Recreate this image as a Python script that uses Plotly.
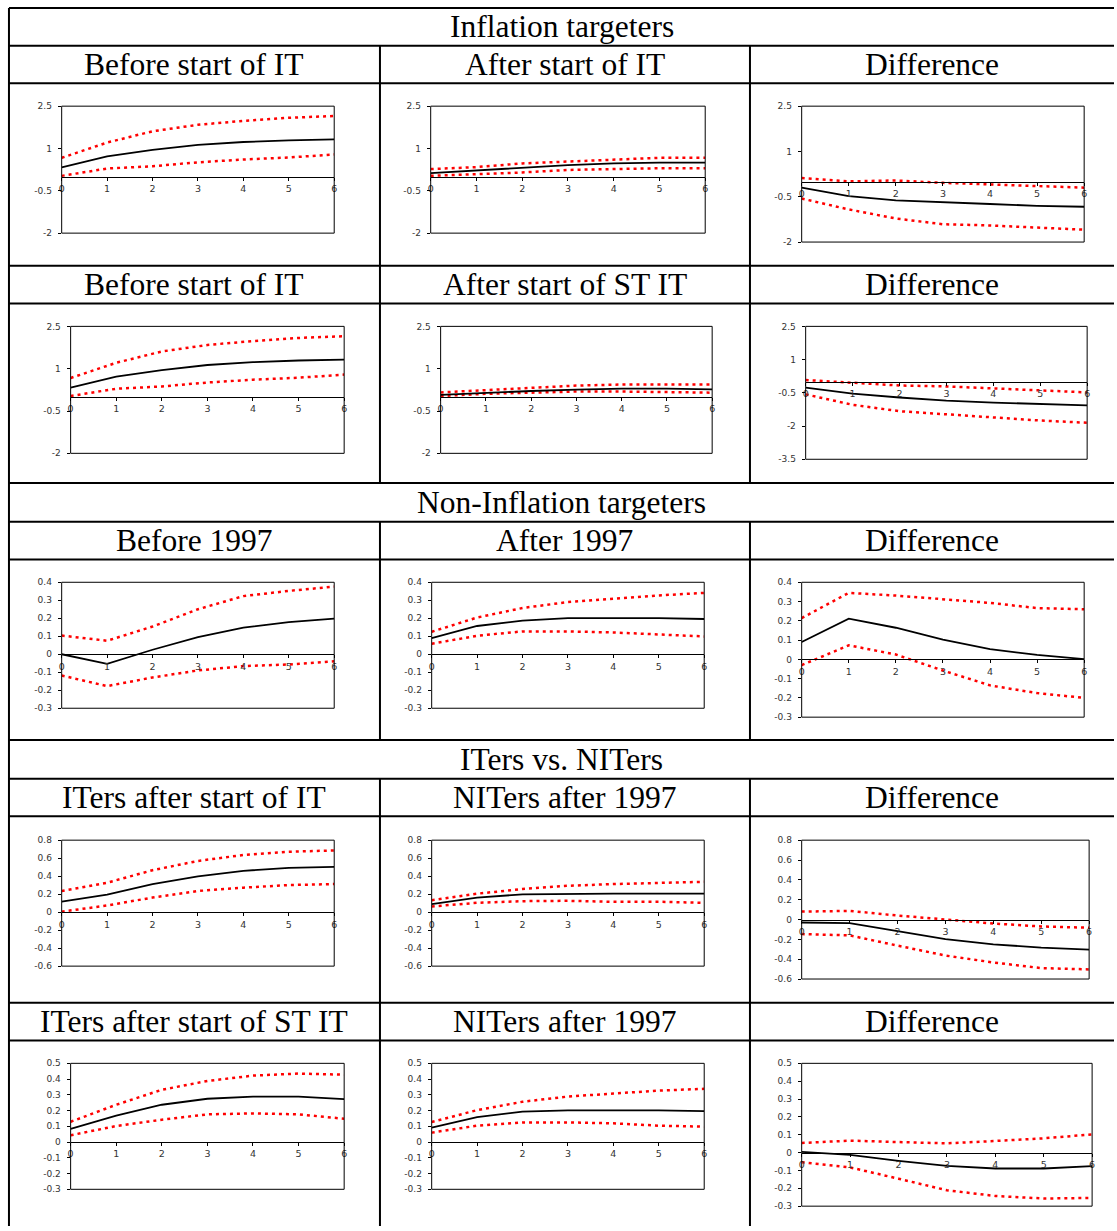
import plotly.graph_objects as go

# ---------------- data ----------------
horizon = [0, 1, 2, 3, 4, 5, 6]
horizon_labels = ["0", "1", "2", "3", "4", "5", "6"]

# Inflation targeters: before start of IT (same in both IT rows)
it_before_mid = [0.33, 0.72, 0.95, 1.13, 1.23, 1.29, 1.32]
it_before_up = [0.67, 1.21, 1.61, 1.84, 1.98, 2.09, 2.15]
it_before_lo = [0.03, 0.29, 0.37, 0.51, 0.61, 0.68, 0.79]

# after start of IT
it_after_mid = [0.13, 0.22, 0.32, 0.41, 0.47, 0.50, 0.50]
it_after_up = [0.27, 0.34, 0.47, 0.54, 0.62, 0.67, 0.67]
it_after_lo = [0.03, 0.08, 0.15, 0.24, 0.27, 0.30, 0.30]

# difference (IT)
it_diff_mid = [-0.20, -0.48, -0.62, -0.69, -0.74, -0.80, -0.83]
it_diff_up = [0.12, 0.01, 0.04, -0.04, -0.09, -0.14, -0.20]
it_diff_lo = [-0.56, -0.92, -1.22, -1.41, -1.45, -1.52, -1.59]

# after start of ST IT
st_after_mid = [0.07, 0.15, 0.21, 0.26, 0.29, 0.29, 0.27]
st_after_up = [0.16, 0.25, 0.32, 0.40, 0.44, 0.44, 0.44]
st_after_lo = [0.03, 0.11, 0.15, 0.19, 0.19, 0.18, 0.15]

# difference (ST IT)
st_diff_mid = [-0.27, -0.54, -0.71, -0.85, -0.94, -1.02, -1.07]
st_diff_up = [0.08, -0.05, -0.17, -0.21, -0.30, -0.42, -0.48]
st_diff_lo = [-0.57, -1.04, -1.33, -1.48, -1.63, -1.75, -1.85]

# Non-inflation targeters: before 1997
nit_before_mid = [0.0, -0.053, 0.025, 0.095, 0.148, 0.178, 0.198]
nit_before_up = [0.104, 0.075, 0.154, 0.250, 0.323, 0.352, 0.376]
nit_before_lo = [-0.118, -0.177, -0.129, -0.090, -0.066, -0.057, -0.039]

# after 1997
nit_after_mid = [0.090, 0.157, 0.187, 0.201, 0.201, 0.201, 0.196]
nit_after_up = [0.125, 0.204, 0.257, 0.290, 0.308, 0.327, 0.341]
nit_after_lo = [0.058, 0.103, 0.127, 0.127, 0.121, 0.110, 0.099]

# difference (NIT)
nit_diff_mid = [0.090, 0.211, 0.164, 0.102, 0.053, 0.023, 0.001]
nit_diff_up = [0.214, 0.345, 0.331, 0.312, 0.293, 0.266, 0.260]
nit_diff_lo = [-0.030, 0.073, 0.025, -0.058, -0.135, -0.175, -0.200]

# ITers after start of IT (vs NITers)
vs_it_mid = [0.118, 0.195, 0.312, 0.397, 0.459, 0.492, 0.503]
vs_it_up = [0.235, 0.327, 0.466, 0.569, 0.635, 0.671, 0.686]
vs_it_lo = [0.005, 0.074, 0.162, 0.235, 0.272, 0.301, 0.312]

# NITers after 1997 (row 4)
vs_nit_mid = [0.089, 0.162, 0.198, 0.205, 0.205, 0.205, 0.205]
vs_nit_up = [0.133, 0.205, 0.257, 0.293, 0.312, 0.327, 0.337]
vs_nit_lo = [0.063, 0.104, 0.122, 0.126, 0.115, 0.115, 0.104]

# difference (ITers vs NITers)
vs_diff_mid = [-0.030, -0.037, -0.117, -0.197, -0.250, -0.283, -0.303]
vs_diff_up = [0.080, 0.087, 0.040, 0.000, -0.040, -0.070, -0.083]
vs_diff_lo = [-0.147, -0.160, -0.263, -0.363, -0.433, -0.490, -0.503]

# ITers after start of ST IT
vs_st_mid = [0.084, 0.168, 0.237, 0.275, 0.289, 0.289, 0.273]
vs_st_up = [0.129, 0.237, 0.332, 0.388, 0.422, 0.435, 0.428]
vs_st_lo = [0.043, 0.102, 0.142, 0.176, 0.182, 0.176, 0.148]

# NITers after 1997 (row 5)
vs_nit2_mid = [0.092, 0.159, 0.193, 0.201, 0.201, 0.201, 0.196]
vs_nit2_up = [0.127, 0.203, 0.256, 0.289, 0.308, 0.327, 0.338]
vs_nit2_lo = [0.060, 0.104, 0.125, 0.125, 0.119, 0.104, 0.098]

# difference (ST ITers vs NITers)
vs_st_diff_mid = [0.004, -0.013, -0.046, -0.074, -0.089, -0.089, -0.076]
vs_st_diff_up = [0.054, 0.067, 0.059, 0.052, 0.065, 0.080, 0.102]
vs_st_diff_lo = [-0.054, -0.083, -0.146, -0.211, -0.243, -0.257, -0.254]

# y tick sets
ticks_a = [-2, -0.5, 1, 2.5]
ticks_a_labels = ["-2", "-0.5", "1", "2.5"]
ticks_b = [-3.5, -2, -0.5, 1, 2.5]
ticks_b_labels = ["-3.5", "-2", "-0.5", "1", "2.5"]
ticks_c = [-0.3, -0.2, -0.1, 0, 0.1, 0.2, 0.3, 0.4]
ticks_c_labels = ["-0.3", "-0.2", "-0.1", "0", "0.1", "0.2", "0.3", "0.4"]
ticks_d = [-0.6, -0.4, -0.2, 0, 0.2, 0.4, 0.6, 0.8]
ticks_d_labels = ["-0.6", "-0.4", "-0.2", "0", "0.2", "0.4", "0.6", "0.8"]
ticks_e = [-0.3, -0.2, -0.1, 0, 0.1, 0.2, 0.3, 0.4, 0.5]
ticks_e_labels = ["-0.3", "-0.2", "-0.1", "0", "0.1", "0.2", "0.3", "0.4", "0.5"]

section_titles = ["Inflation targeters", "Non-Inflation targeters", "ITers vs. NITers"]
column_titles = [
    ["Before start of IT", "After start of IT", "Difference"],
    ["Before start of IT", "After start of ST IT", "Difference"],
    ["Before 1997", "After 1997", "Difference"],
    ["ITers after start of IT", "NITers after 1997", "Difference"],
    ["ITers after start of ST IT", "NITers after 1997", "Difference"],
]

# ---------------- layout ----------------
W, H = 1117, 1231

# panel: (mid, up, lo, (left, top, right, bottom) px, yrange, ticks, ticklabels)
panels = [
    (it_before_mid, it_before_up, it_before_lo, (59, 102, 333, 230), (-2, 2.5), ticks_a, ticks_a_labels),
    (it_after_mid, it_after_up, it_after_lo, (430, 102, 706, 230), (-2, 2.5), ticks_a, ticks_a_labels),
    (it_diff_mid, it_diff_up, it_diff_lo, (803, 102, 1087, 239), (-2, 2.5), ticks_a, ticks_a_labels),
    (it_before_mid, it_before_up, it_before_lo, (68, 324, 343, 452), (-2, 2.5), ticks_a, ticks_a_labels),
    (st_after_mid, st_after_up, st_after_lo, (440, 324, 713, 452), (-2, 2.5), ticks_a, ticks_a_labels),
    (st_diff_mid, st_diff_up, st_diff_lo, (807, 324, 1090, 458), (-3.5, 2.5), ticks_b, ticks_b_labels),
    (nit_before_mid, nit_before_up, nit_before_lo, (59, 582, 333, 709), (-0.3, 0.4), ticks_c, ticks_c_labels),
    (nit_after_mid, nit_after_up, nit_after_lo, (431, 582, 705, 709), (-0.3, 0.4), ticks_c, ticks_c_labels),
    (nit_diff_mid, nit_diff_up, nit_diff_lo, (803, 582, 1087, 718), (-0.3, 0.4), ticks_c, ticks_c_labels),
    (vs_it_mid, vs_it_up, vs_it_lo, (59, 842, 333, 969), (-0.6, 0.8), ticks_d, ticks_d_labels),
    (vs_nit_mid, vs_nit_up, vs_nit_lo, (431, 842, 705, 969), (-0.6, 0.8), ticks_d, ticks_d_labels),
    (vs_diff_mid, vs_diff_up, vs_diff_lo, (803, 842, 1092, 982), (-0.6, 0.8), ticks_d, ticks_d_labels),
    (vs_st_mid, vs_st_up, vs_st_lo, (68, 1067, 343, 1194), (-0.3, 0.5), ticks_e, ticks_e_labels),
    (vs_nit2_mid, vs_nit2_up, vs_nit2_lo, (431, 1067, 705, 1194), (-0.3, 0.5), ticks_e, ticks_e_labels),
    (vs_st_diff_mid, vs_st_diff_up, vs_st_diff_lo, (803, 1067, 1095, 1211), (-0.3, 0.5), ticks_e, ticks_e_labels),
]


def px_x(x):
    return x / W


def px_y(y):
    return 1 - y / H


ytick_font = dict(family="DejaVu Sans", size=9, color="#333333")
xtick_font = dict(family="DejaVu Sans", size=9.5, color="#333333")
fig = go.Figure()
layout_axes = {}
shapes = []

for i, (mid, up, lo, box, yr, tv, tt) in enumerate(panels):
    k = i + 1
    sfx = "" if k == 1 else str(k)
    xref, yref = "x" + sfx, "y" + sfx
    left, top, right, bottom = box
    ymin, ymax = yr
    d0, d1 = px_y(bottom), px_y(top)
    zero_pos = d0 + (0 - ymin) / (ymax - ymin) * (d1 - d0)
    layout_axes["xaxis" + sfx] = dict(
        domain=[px_x(left), px_x(right)], range=[0, 6], anchor="free", position=zero_pos,
        tickvals=horizon, ticktext=horizon_labels, ticks="outside", ticklen=3,
        tickcolor="black", showline=True, linecolor="black", linewidth=1,
        showgrid=False, zeroline=False, tickfont=xtick_font, fixedrange=True,
    )
    layout_axes["yaxis" + sfx] = dict(
        domain=[d0, d1], range=[ymin, ymax], anchor=xref,
        tickvals=tv, ticktext=tt, ticks="outside", ticklen=3, tickcolor="black",
        ticklabelstandoff=4,
        showline=False, showgrid=False, zeroline=False, tickfont=ytick_font, fixedrange=True,
    )
    for band in (up, lo):
        fig.add_trace(go.Scatter(
            x=horizon, y=band, xaxis=xref, yaxis=yref, mode="lines",
            line=dict(color="#FF0000", width=2.5, dash="3px,4px"),
            showlegend=False, hoverinfo="skip",
        ))
    fig.add_trace(go.Scatter(
        x=horizon, y=mid, xaxis=xref, yaxis=yref, mode="lines",
        line=dict(color="black", width=1.8), showlegend=False, hoverinfo="skip",
    ))
    shapes.append(dict(
        type="rect", xref=xref + " domain", yref=yref + " domain",
        x0=0, x1=1, y0=0, y1=1, line=dict(color="black", width=1), layer="above",
    ))

# table grid (pixel positions)
line_style = dict(color="black", width=2)
h_lines = [3, 41, 79, 263, 301, 482, 521, 559, 741, 780, 818, 1006, 1044]
for yy in h_lines:
    shapes.append(dict(type="line", xref="paper", yref="paper",
                       x0=px_x(6), x1=1, y0=px_y(yy), y1=px_y(yy), line=line_style))
shapes.append(dict(type="line", xref="paper", yref="paper",
                   x0=px_x(6), x1=px_x(6), y0=px_y(3), y1=0, line=line_style))
for xx in (379, 751):
    for (ya, yb) in [(41, 482), (521, 741), (780, 1231)]:
        shapes.append(dict(type="line", xref="paper", yref="paper",
                           x0=px_x(xx), x1=px_x(xx), y0=px_y(ya), y1=px_y(yb), line=line_style))

annotations = []
head_font = dict(family="Liberation Serif, Times New Roman", size=31.5, color="black")
section_rows = [(3, 41), (482, 521), (741, 780)]
for title, (ya, yb) in zip(section_titles, section_rows):
    annotations.append(dict(text=title, xref="paper", yref="paper", x=px_x(562),
                            y=px_y((ya + yb) / 2), showarrow=False, font=head_font,
                            xanchor="center", yanchor="middle"))
header_rows = [(41, 79), (263, 301), (521, 559), (780, 818), (1006, 1044)]
col_centers = [192.5, 565, 934]
for titles, (ya, yb) in zip(column_titles, header_rows):
    for t, cx in zip(titles, col_centers):
        annotations.append(dict(text=t, xref="paper", yref="paper", x=px_x(cx),
                                y=px_y((ya + yb) / 2), showarrow=False, font=head_font,
                                xanchor="center", yanchor="middle"))

fig.update_layout(
    width=W, height=H, margin=dict(l=0, r=0, t=0, b=0),
    paper_bgcolor="white", plot_bgcolor="white",
    shapes=shapes, annotations=annotations, showlegend=False,
    **layout_axes,
)
fig.write_html(
    "out.html",
    config={"displayModeBar": False},
    post_script="document.body.style.margin='0';document.documentElement.style.overflow='hidden';",
)
